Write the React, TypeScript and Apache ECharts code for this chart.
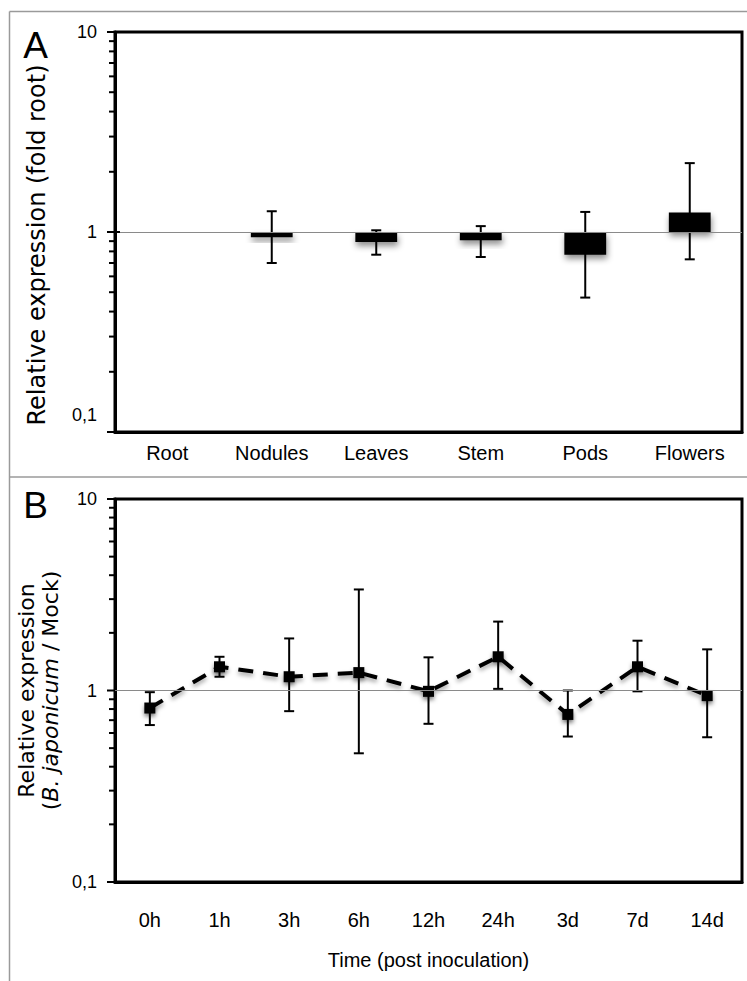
import React, { useEffect, useRef } from "react";
import * as echarts from "echarts";

const categoriesA = ["Root", "Nodules", "Leaves", "Stem", "Pods", "Flowers"];
const valuesA = [1, 0.94, 0.89, 0.91, 0.77, 1.25];
const errLowA: (number | null)[] = [null, 0.7, 0.77, 0.75, 0.47, 0.73];
const errHighA: (number | null)[] = [null, 1.27, 1.02, 1.07, 1.26, 2.21];

const timeLabels = ["0h", "1h", "3h", "6h", "12h", "24h", "3d", "7d", "14d"];
const valuesB = [0.81, 1.33, 1.18, 1.24, 0.99, 1.5, 0.75, 1.33, 0.94];
const errLowB = [0.66, 1.18, 0.78, 0.47, 0.67, 1.02, 0.575, 0.99, 0.57];
const errHighB = [0.98, 1.5, 1.87, 3.37, 1.49, 2.29, 1.0, 1.82, 1.64];

const majorTickValues = [0.1, 1, 10];
const minorTickValues = [0.2, 0.3, 0.4, 0.5, 0.6, 0.7, 0.8, 0.9, 2, 3, 4, 5, 6, 7, 8, 9];
const yTickLabel = (v: number) => (v < 0.5 ? "0,1" : v < 5 ? "1" : "10");

const GRID_LEFT = 115;

export default function App() {
  const ref = useRef<HTMLDivElement>(null);
  useEffect(() => {
    if (!ref.current) return;
    const chart = echarts.init(ref.current, null, { renderer: "svg", width: 747, height: 981 });
    const black = "#000";
    const sans = "Liberation Sans";

    const errorChildren = (x: number, yLo: number, yHi: number, hw: number) => [
      { type: "line", shape: { x1: x, y1: yLo, x2: x, y2: yHi }, style: { stroke: black, lineWidth: 2 } },
      { type: "line", shape: { x1: x - hw, y1: yLo, x2: x + hw, y2: yLo }, style: { stroke: black, lineWidth: 2 } },
      { type: "line", shape: { x1: x - hw, y1: yHi, x2: x + hw, y2: yHi }, style: { stroke: black, lineWidth: 2 } },
    ];

    const refLine = {
      silent: true,
      symbol: ["none", "none"],
      label: { show: false },
      lineStyle: { color: "#8a8a8a", width: 1, type: "solid" },
      data: [{ yAxis: 1 }],
    };

    const yAxisBase = {
      type: "log",
      logBase: 10,
      min: 0.1,
      max: 10,
      axisLine: { show: true, lineStyle: { color: black, width: 3 } },
      axisTick: { show: false },
      splitLine: { show: false },
      minorTick: { show: false },
      nameLocation: "middle",
      nameRotate: 90,
    };

    const baseGraphics: any[] = [
      { id: "f1", type: "line", shape: { x1: 9.5, y1: 11.5, x2: 747, y2: 11.5 }, style: { stroke: "#9a9a9a", lineWidth: 1.5 } },
      { id: "f2", type: "line", shape: { x1: 9.5, y1: 11.5, x2: 9.5, y2: 981 }, style: { stroke: "#9a9a9a", lineWidth: 1.5 } },
      { id: "f3", type: "line", shape: { x1: 9.5, y1: 477, x2: 747, y2: 477 }, style: { stroke: "#9a9a9a", lineWidth: 1.5 } },
      { id: "tA", type: "text", x: 35.5, y: 45, style: { text: "A", fontSize: 37, fontFamily: sans, fill: black, align: "center", verticalAlign: "middle" } },
      { id: "tB", type: "text", x: 35.5, y: 505, style: { text: "B", fontSize: 37, fontFamily: sans, fill: black, align: "center", verticalAlign: "middle" } },
      {
        id: "yTitleA",
        type: "text",
        x: 37,
        y: 245,
        rotation: Math.PI / 2,
        style: { text: "Relative expression (fold root)", fontSize: 24, fontFamily: "DejaVu Sans", fill: black, align: "center", verticalAlign: "middle" },
      },
    ];

    chart.setOption({
      animation: false,
      grid: [
        { left: GRID_LEFT, top: 32, width: 627, height: 400, show: true, borderColor: black, borderWidth: 3, backgroundColor: "transparent" },
        { left: GRID_LEFT, top: 499, width: 627, height: 383, show: true, borderColor: black, borderWidth: 3, backgroundColor: "transparent" },
      ],
      xAxis: [
        {
          type: "category",
          gridIndex: 0,
          data: categoriesA,
          axisLine: { show: true, lineStyle: { color: black, width: 3 } },
          axisTick: { show: false },
          axisLabel: { margin: 11, fontSize: 20, color: black, fontFamily: sans },
        },
        {
          type: "category",
          gridIndex: 1,
          data: timeLabels,
          axisLine: { show: true, lineStyle: { color: black, width: 3 } },
          axisTick: { show: false },
          axisLabel: { margin: 28, fontSize: 20, color: black, fontFamily: sans },
          name: "Time (post inoculation)",
          nameLocation: "middle",
          nameGap: 68,
          nameTextStyle: { fontSize: 20, color: black, fontFamily: sans },
        },
      ],
      yAxis: [
        {
          ...yAxisBase,
          gridIndex: 0,
          axisLabel: {
            margin: 18,
            fontSize: 18,
            color: black,
            fontFamily: sans,
            formatter: (v: number) => (v < 0.5 ? "{lo|0,1}" : yTickLabel(v)),
            rich: { lo: { fontSize: 18, fontFamily: sans, color: black, padding: [0, 0, 34, 0] } },
          },
        },
        {
          ...yAxisBase,
          gridIndex: 1,
          axisLabel: { margin: 18, fontSize: 18, color: black, fontFamily: sans, formatter: yTickLabel },
          name: "{a|Relative expression}\n{a|(}{i|B. japonicum}{a| / Mock)}",
          nameGap: 50,
          nameTextStyle: {
            color: black,
            rich: {
              a: { fontSize: 22, fontFamily: "DejaVu Sans", color: black, lineHeight: 24 },
              i: { fontSize: 22, fontFamily: "DejaVu Sans", fontStyle: "italic", color: black, lineHeight: 24 },
            },
          },
        },
      ],
      series: [
        {
          type: "custom",
          name: "Tissues",
          xAxisIndex: 0,
          yAxisIndex: 0,
          z: 3,
          data: categoriesA.map((_, i) => [i, valuesA[i], errLowA[i] ?? NaN, errHighA[i] ?? NaN]),
          encode: { x: 0, y: 1 },
          renderItem: (params: any, api: any) => {
            const i = api.value(0);
            const v = api.value(1);
            const base = api.coord([i, 1]);
            const top = api.coord([i, v]);
            const w = api.size([1, 0])[0] * 0.4;
            const children: any[] = [];
            const h = Math.abs(top[1] - base[1]);
            if (h > 0.5) {
              children.push({
                type: "rect",
                shape: { x: base[0] - w / 2, y: Math.min(top[1], base[1]), width: w, height: h },
                style: { fill: black, shadowBlur: 6, shadowColor: "rgba(0,0,0,0.45)", shadowOffsetY: 4, shadowOffsetX: 1 },
              });
            }
            const lo = api.value(2);
            const hi = api.value(3);
            if (!isNaN(lo) && !isNaN(hi)) {
              const pLo = api.coord([i, lo]);
              const pHi = api.coord([i, hi]);
              children.push(...errorChildren(pLo[0], pLo[1], pHi[1], 5));
            }
            return { type: "group", children };
          },
          markLine: refLine,
        },
        {
          type: "custom",
          name: "ErrorsB",
          xAxisIndex: 1,
          yAxisIndex: 1,
          z: 2,
          data: timeLabels.map((_, i) => [i, errLowB[i], errHighB[i]]),
          encode: { x: 0, y: [1, 2] },
          renderItem: (params: any, api: any) => {
            const i = api.value(0);
            const pLo = api.coord([i, api.value(1)]);
            const pHi = api.coord([i, api.value(2)]);
            return { type: "group", children: errorChildren(pLo[0], pLo[1], pHi[1], 5) };
          },
          markLine: refLine,
        },
        {
          type: "line",
          name: "Time course",
          xAxisIndex: 1,
          yAxisIndex: 1,
          z: 4,
          data: valuesB,
          symbol: "rect",
          symbolSize: 11,
          itemStyle: { color: black, shadowBlur: 4, shadowColor: "rgba(0,0,0,0.5)", shadowOffsetY: 3 },
          lineStyle: { color: black, width: 4, type: [15, 10], shadowBlur: 4, shadowColor: "rgba(0,0,0,0.35)", shadowOffsetY: 3 },
        },
      ],
      graphic: baseGraphics,
    });

    // y-axis ticks (major + minor 2..9 per decade), positioned through the axes' own scales
    const tickGraphics: any[] = [];
    [0, 1].forEach((gi) => {
      majorTickValues.forEach((v, k) => {
        const y = Number(chart.convertToPixel({ yAxisIndex: gi }, v));
        const inner = gi === 0 && v === 1 ? 5 : 0;
        tickGraphics.push({
          id: `maj-${gi}-${k}`,
          type: "line",
          z: 50,
          shape: { x1: GRID_LEFT - 8, y1: y, x2: GRID_LEFT + inner, y2: y },
          style: { stroke: black, lineWidth: 2 },
        });
      });
      minorTickValues.forEach((v, k) => {
        const y = Number(chart.convertToPixel({ yAxisIndex: gi }, v));
        tickGraphics.push({
          id: `min-${gi}-${k}`,
          type: "line",
          z: 50,
          shape: { x1: GRID_LEFT - 6, y1: y, x2: GRID_LEFT, y2: y },
          style: { stroke: black, lineWidth: 2 },
        });
      });
    });
    chart.setOption({ graphic: [...baseGraphics, ...tickGraphics] });

    return () => chart.dispose();
  }, []);
  return <div ref={ref} style={{ position: "absolute", left: 0, top: 0, width: 747, height: 981 }} />;
}
